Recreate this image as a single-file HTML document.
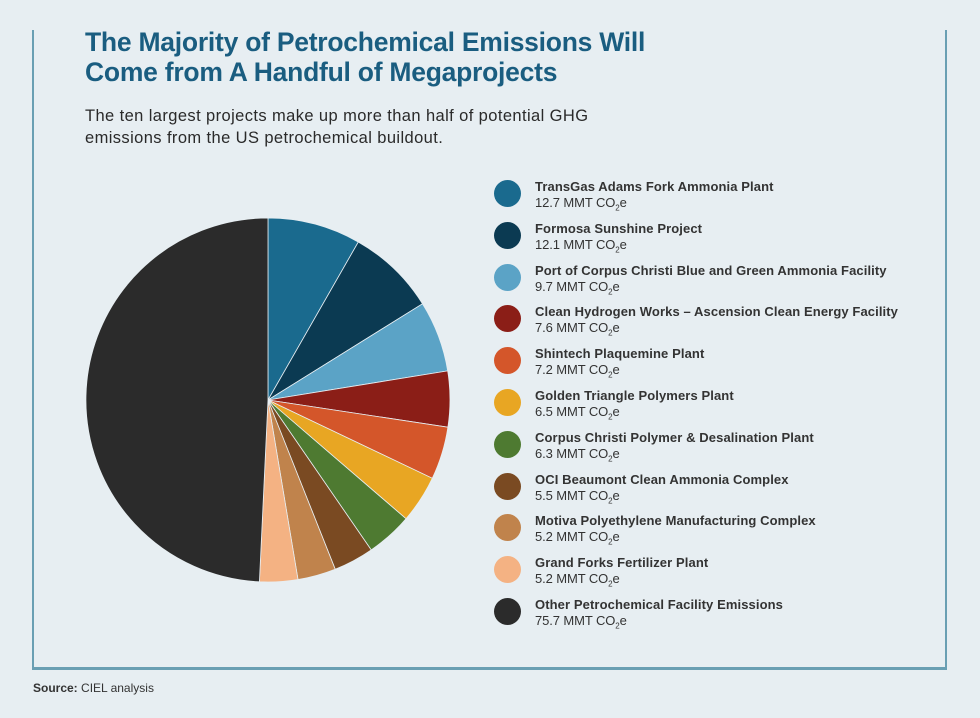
<!DOCTYPE html>
<html><head><meta charset="utf-8"><style>
body{margin:0;width:980px;height:718px;background:#e7eef2;font-family:"Liberation Sans",sans-serif;position:relative;overflow:hidden}
.frame{position:absolute;left:32px;top:30px;width:915px;height:640px;border-left:2px solid #6a9fb3;border-right:2px solid #6a9fb3;border-bottom:3px solid #6a9fb3;box-sizing:border-box}
h1{position:absolute;left:85px;top:27px;margin:0;font-size:26.5px;line-height:30px;color:#1a5d80;font-weight:bold;letter-spacing:-0.25px}
.sub{position:absolute;left:85px;top:105px;font-size:16.5px;line-height:22px;color:#2a2a2a;letter-spacing:0.4px}
.leg{position:absolute;left:494px;top:179px}
.row{position:relative;height:41.8px}
.dot{position:absolute;left:0;top:1px;width:27px;height:27px;border-radius:50%}
.n{position:absolute;left:41px;top:0;font-size:13px;font-weight:bold;color:#333;white-space:nowrap;letter-spacing:0.1px}
.v{position:absolute;left:41px;top:16px;font-size:13px;color:#333;white-space:nowrap;letter-spacing:-0.1px}
.v sub{font-size:8px}
.src{position:absolute;left:33px;top:681px;font-size:12px;color:#333}
</style></head><body>
<div class="frame"></div>
<h1>The Majority of Petrochemical Emissions Will<br>Come from A Handful of Megaprojects</h1>
<div class="sub">The ten largest projects make up more than half of potential GHG<br>emissions from the US petrochemical buildout.</div>
<svg style="position:absolute;left:0;top:0" width="980" height="718">
<g stroke="#e7eef2" stroke-width="0.8">
<path d="M268,400 L268,218 A182,182 0 0 1 358.3,242 Z" fill="#1a6a8e"/>
<path d="M268,400 L358.3,242 A182,182 0 0 1 422.5,303.8 Z" fill="#0b3a52"/>
<path d="M268,400 L422.5,303.8 A182,182 0 0 1 447.7,370.9 Z" fill="#5ba3c6"/>
<path d="M268,400 L447.7,370.9 A182,182 0 0 1 447.9,427.2 Z" fill="#8b1e17"/>
<path d="M268,400 L447.9,427.2 A182,182 0 0 1 432.3,478.3 Z" fill="#d4562a"/>
<path d="M268,400 L432.3,478.3 A182,182 0 0 1 406,518.7 Z" fill="#e8a623"/>
<path d="M268,400 L406,518.7 A182,182 0 0 1 371.2,549.9 Z" fill="#4e7a31"/>
<path d="M268,400 L371.2,549.9 A182,182 0 0 1 335.2,569.2 Z" fill="#7a4a22"/>
<path d="M268,400 L335.2,569.2 A182,182 0 0 1 298,579.5 Z" fill="#c0834c"/>
<path d="M268,400 L298,579.5 A182,182 0 0 1 259.4,581.8 Z" fill="#f4b283"/>
<path d="M268,400 L259.4,581.8 A182,182 0 0 1 268,218 Z" fill="#2b2b2b"/>
</g></svg>
<div class="leg">
<div class="row"><div class="dot" style="background:#1a6a8e"></div><div class="n">TransGas Adams Fork Ammonia Plant</div><div class="v">12.7 MMT CO<sub>2</sub>e</div></div>
<div class="row"><div class="dot" style="background:#0b3a52"></div><div class="n">Formosa Sunshine Project</div><div class="v">12.1 MMT CO<sub>2</sub>e</div></div>
<div class="row"><div class="dot" style="background:#5ba3c6"></div><div class="n">Port of Corpus Christi Blue and Green Ammonia Facility</div><div class="v">9.7 MMT CO<sub>2</sub>e</div></div>
<div class="row"><div class="dot" style="background:#8b1e17"></div><div class="n">Clean Hydrogen Works – Ascension Clean Energy Facility</div><div class="v">7.6 MMT CO<sub>2</sub>e</div></div>
<div class="row"><div class="dot" style="background:#d4562a"></div><div class="n">Shintech Plaquemine Plant</div><div class="v">7.2 MMT CO<sub>2</sub>e</div></div>
<div class="row"><div class="dot" style="background:#e8a623"></div><div class="n">Golden Triangle Polymers Plant</div><div class="v">6.5 MMT CO<sub>2</sub>e</div></div>
<div class="row"><div class="dot" style="background:#4e7a31"></div><div class="n">Corpus Christi Polymer &amp; Desalination Plant</div><div class="v">6.3 MMT CO<sub>2</sub>e</div></div>
<div class="row"><div class="dot" style="background:#7a4a22"></div><div class="n">OCI Beaumont Clean Ammonia Complex</div><div class="v">5.5 MMT CO<sub>2</sub>e</div></div>
<div class="row"><div class="dot" style="background:#c0834c"></div><div class="n">Motiva Polyethylene Manufacturing Complex</div><div class="v">5.2 MMT CO<sub>2</sub>e</div></div>
<div class="row"><div class="dot" style="background:#f4b283"></div><div class="n">Grand Forks Fertilizer Plant</div><div class="v">5.2 MMT CO<sub>2</sub>e</div></div>
<div class="row"><div class="dot" style="background:#2b2b2b"></div><div class="n">Other Petrochemical Facility Emissions</div><div class="v">75.7 MMT CO<sub>2</sub>e</div></div>
</div>
<div class="src"><b>Source:</b> CIEL analysis</div>
</body></html>
